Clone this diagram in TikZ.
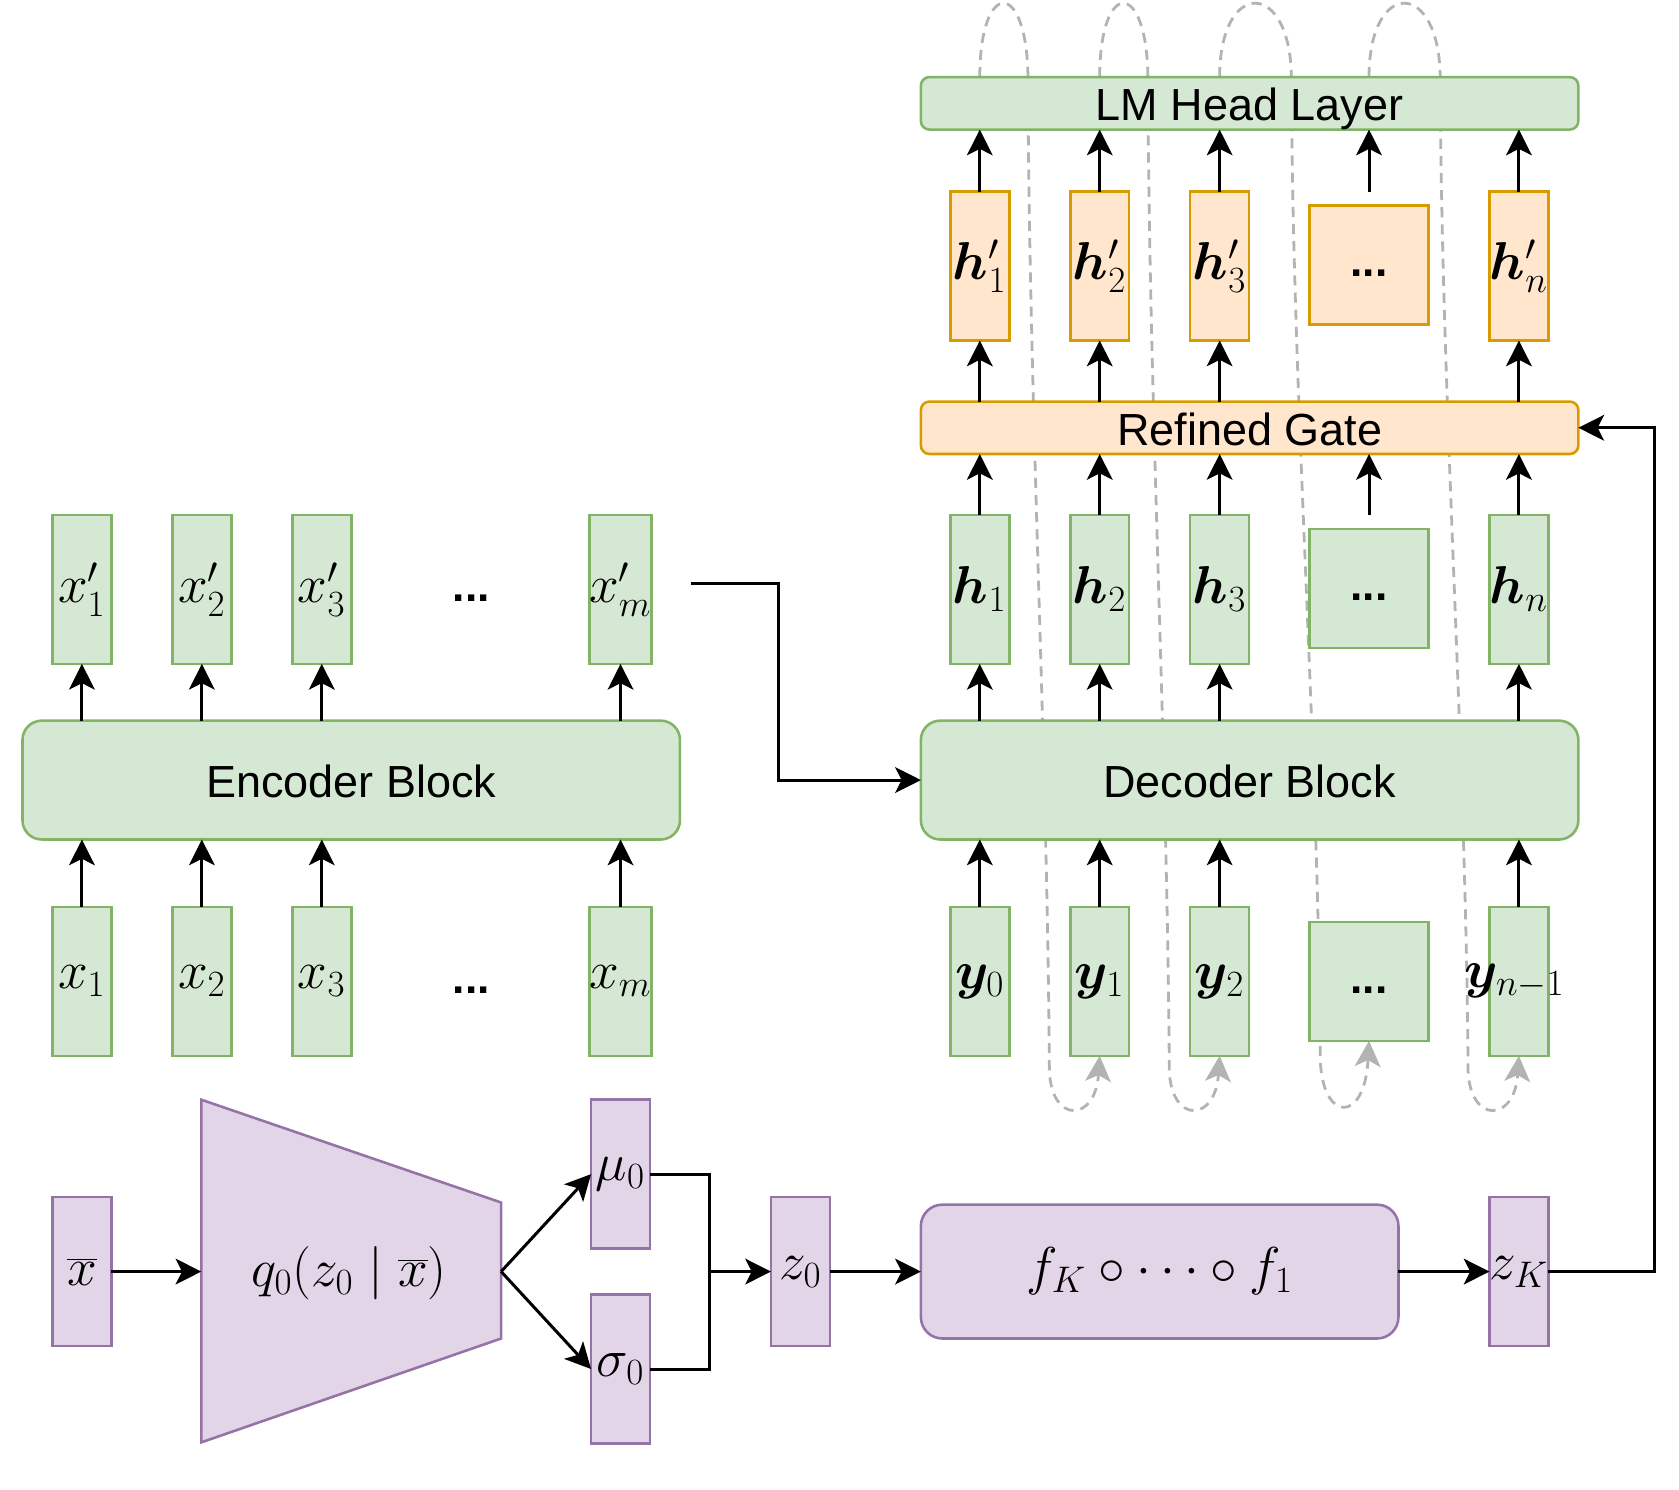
\documentclass[tikz,border=0pt]{standalone}
\usepackage[no-math]{fontspec}
\usepackage{bm}
\newfontfamily\helv{Liberation Sans}
\usetikzlibrary{arrows.meta,calc}
\definecolor{gfill}{HTML}{D5E8D4}
\definecolor{gdraw}{HTML}{82B366}
\definecolor{ofill}{HTML}{FFE6CC}
\definecolor{odraw}{HTML}{D79B00}
\definecolor{pfill}{HTML}{E1D5E7}
\definecolor{pdraw}{HTML}{9673A6}
\definecolor{loopgray}{HTML}{B3B3B3}
\pgfdeclarelayer{bg}
\pgfsetlayers{bg,main}
\begin{document}
\begin{tikzpicture}[x=0.5pt,y=-0.5pt,
  every node/.style={inner sep=0pt, outer sep=0pt},
  mfont/.style={font=\fontsize{24.5}{28}\selectfont},
  sfont/.style={font=\helv\fontsize{21}{24}\selectfont, text height=16.5pt, text depth=0pt},
  dfont/.style={font=\helv\bfseries\fontsize{20.7}{24}\selectfont, text height=15pt, text depth=4pt},
  tok/.style={draw, line width=1.2pt, minimum width=27.5pt, minimum height=69.5pt, mfont},
  grn/.style={fill=gfill, draw=gdraw},
  org/.style={fill=ofill, draw=odraw},
  pur/.style={fill=pfill, draw=pdraw},
  dotbox/.style={draw, line width=1.2pt, minimum width=55.5pt, minimum height=55.5pt, dfont},
  widebox/.style={draw, line width=1.2pt, minimum width=307pt, sfont},
  arr/.style={line width=1.4pt, -{Stealth[length=12pt,width=12pt,inset=3pt]}},
  plain/.style={line width=1.4pt},
  regress/.style={draw=loopgray, line width=1.3pt, dash pattern=on 4.7pt off 3.3pt,
    -{Stealth[length=12pt,width=12pt,inset=3pt,fill=loopgray]}},
]
\useasboundingbox (0,0) rectangle (1568,1391);

% ---------- decoder side ----------
\node[widebox, grn, minimum height=24.5pt, rounded corners=4pt] (lm) at (1167,96.5) {LM Head Layer};
\node[widebox, org, minimum height=24.5pt, rounded corners=4pt] (rg) at (1167,399.5) {Refined Gate};
\node[widebox, grn, minimum height=55.5pt, rounded corners=9pt] (dec) at (1167,728.5) {Decoder Block};

\node[tok, org] (hp1) at (915,248.5) {$\bm{h}'_1$};
\node[tok, org] (hp2) at (1027,248.5) {$\bm{h}'_2$};
\node[tok, org] (hp3) at (1139,248.5) {$\bm{h}'_3$};
\node[dotbox, org] (hpd) at (1278.5,247.5) {...};
\node[tok, org] (hpn) at (1418.5,248.5) {$\bm{h}'_n$};

\node[tok, grn] (h1) at (915,550.5) {$\bm{h}_1$};
\node[tok, grn] (h2) at (1027,550.5) {$\bm{h}_2$};
\node[tok, grn] (h3) at (1139,550.5) {$\bm{h}_3$};
\node[dotbox, grn] (hd) at (1278.5,549.5) {...};
\node[tok, grn] (hn) at (1418.5,550.5) {$\bm{h}_n$};

\node[tok, grn] (y0) at (915,916.5) {$\bm{y}_0$};
\node[tok, grn] (y1) at (1027,916.5) {$\bm{y}_1$};
\node[tok, grn] (y2) at (1139,916.5) {$\bm{y}_2$};
\node[dotbox, grn] (yd) at (1278.5,916.5) {...};
\node[tok, grn] (yn) at (1418.5,916.5) {\makebox[0pt]{\hspace*{-4pt}$\bm{y}_{n-1}$}};

% ---------- encoder side ----------
\node[widebox, grn, minimum height=55.5pt, rounded corners=9pt] (enc) at (328,728.5) {Encoder Block};

\node[tok, grn] (xp1) at (76.5,550.5) {$x'_1$};
\node[tok, grn] (xp2) at (188.5,550.5) {$x'_2$};
\node[tok, grn] (xp3) at (300.5,550.5) {$x'_3$};
\node[dfont] (xpd) at (440,550.5) {...};
\node[tok, grn] (xpm) at (579.5,550.5) {$x'_m$};

\node[tok, grn] (x1) at (76.5,916.5) {$x_1$};
\node[tok, grn] (x2) at (188.5,916.5) {$x_2$};
\node[tok, grn] (x3) at (300.5,916.5) {$x_3$};
\node[dfont] (xd) at (440,916.5) {...};
\node[tok, grn] (xm) at (579.5,916.5) {$x_m$};

% ---------- latent part ----------
\node[tok, pur] (xb) at (76.5,1187.5) {$\overline{x}$};
\draw[fill=pfill, draw=pdraw, line width=1.2pt] (188,1027) -- (468,1123) -- (468,1250) -- (188,1347) -- cycle;
\node[mfont] (qtxt) at (326,1189) {$q_0(z_0\mid\overline{x})$};
\coordinate (qL) at (188,1187.5);
\coordinate (qR) at (468,1187.5);
\node[tok, pur] (mu) at (579.5,1096.5) {$\mu_0$};
\node[tok, pur] (sg) at (579.5,1278.5) {$\sigma_0$};
\coordinate (jn) at (663,1187.5);
\node[tok, pur] (z0) at (747.5,1187.5) {$z_0$};
\node[draw, line width=1.2pt, pur, minimum width=223pt, minimum height=62.5pt, rounded corners=10pt, mfont] (fb) at (1083,1187.5) {$f_K\circ\cdots\circ f_1$};
\node[tok, pur] (zK) at (1418.5,1187.5) {$z_K$};
\coordinate (rt) at (1545,1187.5);
\coordinate (xo) at (645,545);
\coordinate (bend) at (727,545);

% ---------- connectors ----------
\draw[arr] (xb.east) -- (qL);
\draw[arr] (qR) -- (mu.west);
\draw[arr] (qR) -- (sg.west);
\draw[plain] (mu.east) -| (jn) |- (sg.east);
\draw[arr] (jn) -- (z0.west);
\draw[arr] (z0.east) -- (fb.west);
\draw[arr] (fb.east) -- (zK.west);
\draw[arr] (zK.east) -- (rt) |- (rg.east);
\draw[arr] (xo) -- (bend) |- (dec.west);

\foreach \i in {1,2,3,m}{
  \draw[arr] (x\i.north) -- (x\i.north |- enc.south);
  \draw[arr] (enc.north -| xp\i) -- (xp\i.south);
}
\foreach \a in {y0,y1,y2,yn}{
  \draw[arr] (\a.north) -- (\a.north |- dec.south);
}
\foreach \i in {1,2,3,n}{
  \draw[arr] (dec.north -| h\i) -- (h\i.south);
  \draw[arr] (h\i.north) -- (h\i.north |- rg.south);
  \draw[arr] (rg.north -| hp\i) -- (hp\i.south);
  \draw[arr] (hp\i.north) -- (hp\i.north |- lm.south);
}
\draw[arr] ($(hd.north)+(0,-13)$) -- (hd.north |- rg.south);
\draw[arr] ($(hpd.north)+(0,-13)$) -- (hpd.north |- lm.south);

% ---------- autoregressive loops (behind) ----------
\begin{pgfonlayer}{bg}
\draw[regress] (lm.north -| hp1) .. controls +(0,-92) and +(-1,-92) .. (960,72)
  .. controls +(1,300) and +(-2,-300) .. (980,1000)
  .. controls +(2,50) and +(-4,62) .. (y1.south);
\draw[regress] (lm.north -| hp2) .. controls +(0,-92) and +(-1,-92) .. (1072,72)
  .. controls +(1,300) and +(-2,-300) .. (1092,1000)
  .. controls +(2,50) and +(-4,62) .. (y2.south);
\draw[regress] (lm.north -| hp3) .. controls +(0,-92) and +(-1,-92) .. (1206,72)
  .. controls +(1,300) and +(-2,-300) .. (1233,990)
  .. controls +(2,58) and +(-4,78) .. (yd.south);
\draw[regress] (lm.north -| hpd) .. controls +(0,-92) and +(-1,-92) .. (1345,72)
  .. controls +(1,300) and +(-2,-300) .. (1371,1000)
  .. controls +(2,50) and +(-4,62) .. (yn.south);
\end{pgfonlayer}
\end{tikzpicture}
\end{document}
